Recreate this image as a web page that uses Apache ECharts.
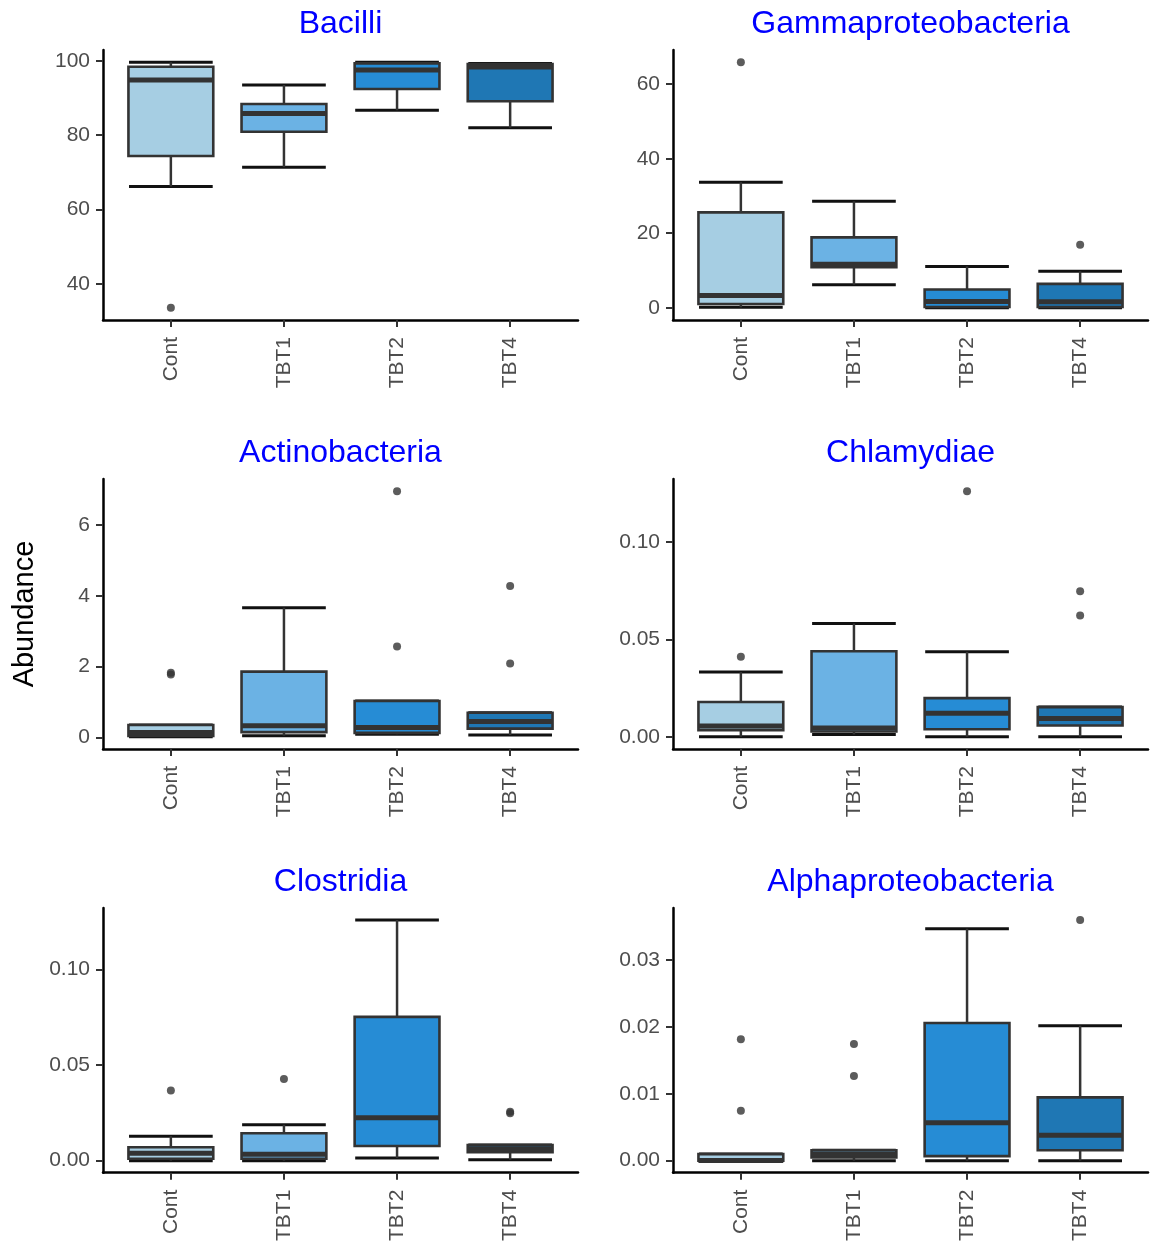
<!DOCTYPE html>
<html>
<head>
<meta charset="utf-8">
<script src="https://cdn.jsdelivr.net/npm/echarts@6/dist/echarts.min.js"></script>
<style>
  html, body { margin: 0; padding: 0; background: #ffffff; }
  #chart { width: 1157px; height: 1244px; }
</style>
</head>
<body>
<div id="chart"></div>
<script>
// Treatment groups and their fill colours
const categories = ['Cont', 'TBT1', 'TBT2', 'TBT4'];
const groupColors = ['#A6CEE3', '#6BB2E4', '#268CD5', '#1F77B4'];

// Per-class summaries, one row per group:
// [lower whisker, Q1, median, Q3, upper whisker]
const bacilliStats = [
  [66.2, 74.4, 94.8, 98.4, 99.6],
  [71.4, 80.9, 85.8, 88.4, 93.5],
  [86.7, 92.4, 97.5, 99.3, 99.6],
  [82.0, 89.1, 98.3, 99.1, 99.3]
];
const bacilliOutliers = [['Cont', 33.6]];
const bacilliTicks = [40, 60, 80, 100];
const bacilliTickLabels = ['40', '60', '80', '100'];

const gammaStats = [
  [0.1, 1.0, 3.3, 25.6, 33.7],
  [6.2, 10.9, 11.7, 18.9, 28.6],
  [0.0, 0.2, 1.7, 4.9, 11.1],
  [0.0, 0.2, 1.6, 6.4, 9.8]
];
const gammaOutliers = [['Cont', 65.9], ['TBT4', 16.9]];
const gammaTicks = [0, 20, 40, 60];
const gammaTickLabels = ['0', '20', '40', '60'];

const actinoStats = [
  [0.02, 0.04, 0.14, 0.35, 0.35],
  [0.05, 0.15, 0.33, 1.86, 3.67],
  [0.09, 0.13, 0.28, 1.03, 1.03],
  [0.07, 0.25, 0.45, 0.70, 0.70]
];
const actinoOutliers = [['Cont', 1.78], ['Cont', 1.83], ['TBT2', 6.96], ['TBT2', 2.57], ['TBT4', 4.28], ['TBT4', 2.09]];
const actinoTicks = [0, 2, 4, 6];
const actinoTickLabels = ['0', '2', '4', '6'];

const chlamydiaeStats = [
  [0.0000, 0.0034, 0.0055, 0.0178, 0.0332],
  [0.0012, 0.0027, 0.0045, 0.0439, 0.0581],
  [0.0000, 0.0038, 0.0120, 0.0198, 0.0436],
  [0.0000, 0.0058, 0.0094, 0.0152, 0.0152]
];
const chlamydiaeOutliers = [['Cont', 0.041], ['TBT2', 0.126], ['TBT4', 0.0747], ['TBT4', 0.0622]];
const chlamydiaeTicks = [0, 0.05, 0.10];
const chlamydiaeTickLabels = ['0.00', '0.05', '0.10'];

const clostridiaStats = [
  [0.0000, 0.0010, 0.0038, 0.0070, 0.0128],
  [0.0000, 0.0010, 0.0034, 0.0143, 0.0188],
  [0.0014, 0.0077, 0.0224, 0.0753, 0.1260],
  [0.0005, 0.0044, 0.0062, 0.0082, 0.0082]
];
const clostridiaOutliers = [['Cont', 0.0367], ['TBT1', 0.0427], ['TBT4', 0.0256], ['TBT4', 0.0248]];
const clostridiaTicks = [0, 0.05, 0.10];
const clostridiaTickLabels = ['0.00', '0.05', '0.10'];

const alphaStats = [
  [0.00000, 0.00000, 0.00003, 0.00098, 0.00098],
  [0.00000, 0.00049, 0.00098, 0.00156, 0.00156],
  [0.00000, 0.00068, 0.00566, 0.02060, 0.03470],
  [0.00000, 0.00156, 0.00380, 0.00946, 0.02020]
];
const alphaOutliers = [['Cont', 0.01815], ['Cont', 0.00746], ['TBT1', 0.01746], ['TBT1', 0.01268], ['TBT4', 0.0360]];
const alphaTicks = [0, 0.01, 0.02, 0.03];
const alphaTickLabels = ['0.00', '0.01', '0.02', '0.03'];

const panelTitles = ['Bacilli', 'Gammaproteobacteria', 'Actinobacteria', 'Chlamydiae', 'Clostridia', 'Alphaproteobacteria'];

// ---- layout & styling ----
const FONT = "'Liberation Sans', Arial, Helvetica, sans-serif";
const COL_LEFT = [103, 673];
const ROW_TOP = [50, 479, 908];
const PANEL_W = 475;
const PANEL_H = 270;
const BOX_WIDTH = 0.75;     // in category units
const CAP_WIDTH = 0.74;

const panels = [
  { stats: bacilliStats, outliers: bacilliOutliers, ticks: bacilliTicks, labels: bacilliTickLabels },
  { stats: gammaStats, outliers: gammaOutliers, ticks: gammaTicks, labels: gammaTickLabels },
  { stats: actinoStats, outliers: actinoOutliers, ticks: actinoTicks, labels: actinoTickLabels },
  { stats: chlamydiaeStats, outliers: chlamydiaeOutliers, ticks: chlamydiaeTicks, labels: chlamydiaeTickLabels },
  { stats: clostridiaStats, outliers: clostridiaOutliers, ticks: clostridiaTicks, labels: clostridiaTickLabels },
  { stats: alphaStats, outliers: alphaOutliers, ticks: alphaTicks, labels: alphaTickLabels }
];

function renderBox(params, api) {
  const x = api.value(0);
  const pt = i => api.coord([x, api.value(i)]);
  const lo = pt(1), q1 = pt(2), md = pt(3), q3 = pt(4), hi = pt(5);
  const cx = lo[0];
  const bw = api.size([BOX_WIDTH, 0])[0];
  const half = bw / 2;
  const capHalf = api.size([CAP_WIDTH, 0])[0] / 2;
  const thin = { stroke: '#333333', lineWidth: 2.5 };
  const cap = { stroke: '#111111', lineWidth: 3 };
  return {
    type: 'group',
    children: [
      { type: 'line', shape: { x1: cx - capHalf, y1: hi[1], x2: cx + capHalf, y2: hi[1] }, style: cap },
      { type: 'line', shape: { x1: cx - capHalf, y1: lo[1], x2: cx + capHalf, y2: lo[1] }, style: cap },
      { type: 'line', shape: { x1: cx, y1: hi[1], x2: cx, y2: q3[1] }, style: thin },
      { type: 'line', shape: { x1: cx, y1: lo[1], x2: cx, y2: q1[1] }, style: thin },
      { type: 'rect', shape: { x: cx - half, y: q3[1], width: bw, height: q1[1] - q3[1] },
        style: { fill: groupColors[x - 1], stroke: '#333333', lineWidth: 2.6 } },
      { type: 'line', shape: { x1: cx - half, y1: md[1], x2: cx + half, y2: md[1] },
        style: { stroke: '#333333', lineWidth: 5 } }
    ]
  };
}

const grid = [], xAxis = [], yAxis = [], series = [], title = [];

panels.forEach((p, i) => {
  const col = i % 2, row = Math.floor(i / 2);
  const left = COL_LEFT[col], top = ROW_TOP[row];

  grid.push({ left: left, top: top, width: PANEL_W, height: PANEL_H, containLabel: false });

  title.push({
    text: panelTitles[i],
    left: left + PANEL_W / 2,
    top: top - 42,
    padding: 0,
    textAlign: 'center',
    textStyle: { color: '#0000FF', fontSize: 32, fontWeight: 'normal', fontFamily: FONT }
  });

  // y range padded by 5% of the data span on each side
  const vals = [];
  p.stats.forEach(s => vals.push(...s));
  p.outliers.forEach(o => vals.push(o[1]));
  const lo = Math.min(...vals), hi = Math.max(...vals);
  const pad = (hi - lo) * 0.05;

  xAxis.push({
    gridIndex: i,
    type: 'value',
    min: 0.4,
    max: 4.6,
    axisLine: { show: true, onZero: false, lineStyle: { color: '#000000', width: 2.5 } },
    axisTick: { show: true, length: 7, customValues: [1, 2, 3, 4], lineStyle: { color: '#333333', width: 2 } },
    axisLabel: {
      customValues: [1, 2, 3, 4],
      formatter: v => categories[Math.round(v) - 1],
      rotate: 90,
      margin: 17,
      color: '#4D4D4D',
      fontSize: 21,
      fontFamily: FONT
    },
    splitLine: { show: false }
  });

  const yConf = {
    gridIndex: i,
    type: 'value',
    min: lo - pad,
    max: hi + pad,
    axisLine: { show: true, onZero: false, lineStyle: { color: '#000000', width: 2.5 } },
    axisTick: { show: true, length: 7, customValues: p.ticks, lineStyle: { color: '#333333', width: 2 } },
    axisLabel: {
      customValues: p.ticks,
      formatter: v => {
        let best = 0;
        p.ticks.forEach((t, k) => { if (Math.abs(t - v) < Math.abs(p.ticks[best] - v)) best = k; });
        return p.labels[best];
      },
      margin: 13,
      color: '#4D4D4D',
      fontSize: 21,
      fontFamily: FONT
    },
    splitLine: { show: false }
  };
  if (i === 2) {
    Object.assign(yConf, {
      name: 'Abundance',
      nameLocation: 'middle',
      nameRotate: 90,
      nameGap: 64,
      nameTextStyle: { color: '#000000', fontSize: 29, fontFamily: FONT }
    });
  }
  yAxis.push(yConf);

  series.push({
    type: 'custom',
    xAxisIndex: i,
    yAxisIndex: i,
    renderItem: renderBox,
    encode: { x: 0, y: [1, 2, 3, 4, 5] },
    data: p.stats.map((s, k) => [k + 1, ...s]),
    silent: true,
    animation: false
  });

  series.push({
    type: 'scatter',
    xAxisIndex: i,
    yAxisIndex: i,
    symbol: 'circle',
    symbolSize: 8,
    itemStyle: { color: '#333333' },
    data: p.outliers.map(o => [categories.indexOf(o[0]) + 1, o[1]]),
    silent: true,
    animation: false,
    z: 3
  });
});

const chart = echarts.init(document.getElementById('chart'), null, { renderer: 'canvas' });
chart.setOption({
  backgroundColor: '#ffffff',
  animation: false,
  title: title,
  grid: grid,
  xAxis: xAxis,
  yAxis: yAxis,
  series: series
});
</script>
</body>
</html>
